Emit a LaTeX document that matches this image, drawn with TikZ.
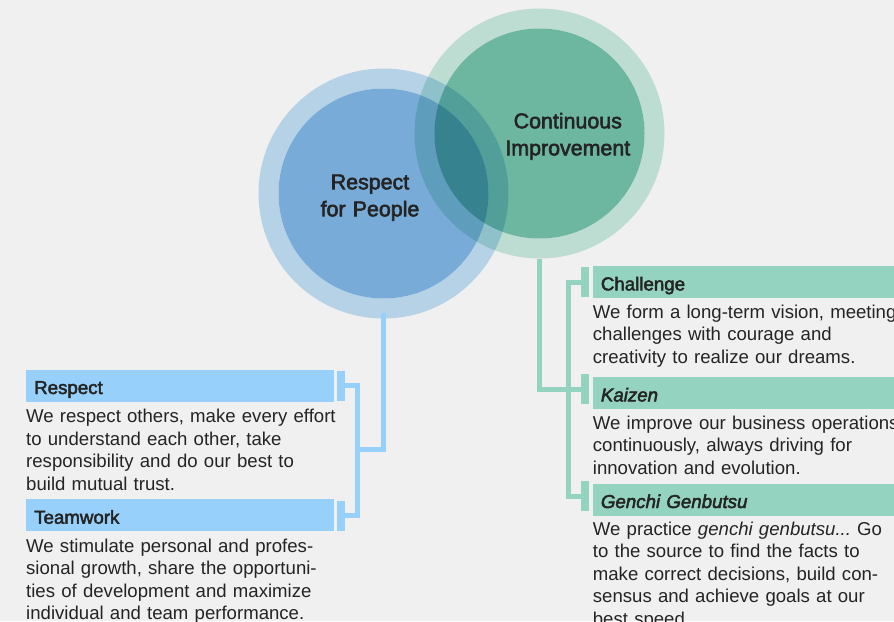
\documentclass[tikz,border=0pt]{standalone}
\usepackage{fontspec}
\setmainfont{Liberation Sans}
\newfontfamily\medfam{Liberation Sans}[FakeBold=2.5]
\usepackage{tikz}
\usetikzlibrary{
  	positioning,
  	calc
  }
\definecolor{paper}{HTML}{F0F0F0}
\definecolor{ink}{HTML}{242424}
\definecolor{bluering}{HTML}{B5D2E7}
\definecolor{bluecore}{HTML}{78ABD7}
\definecolor{greenring}{HTML}{CAEBE0}
\definecolor{greencore}{HTML}{74C2AA}
\definecolor{bluebar}{HTML}{97D1FB}
\definecolor{greenbar}{HTML}{94D3BF}
\newcommand\bdfont{\fontsize{18.6}{22.5}\selectfont\frenchspacing\color{ink}}
\newcommand\hdfont{\medfam\fontsize{18.7}{22}\selectfont\color{ink}}
\newcommand\crfont{\medfam\fontsize{21.4}{27}\selectfont\color{ink}}
\tikzstyle{ring}=[circle,inner sep=0pt,minimum size=230pt,line width=20pt]
\tikzstyle{core}=[circle,inner sep=0pt,minimum size=210pt]
\tikzstyle{bar}=[anchor=north west,inner xsep=8pt,inner ysep=0pt,minimum height=32pt,
  align=left,text height=19pt,text depth=2pt,font=\hdfont]
\tikzstyle{tick}=[inner sep=0pt,minimum width=8pt,minimum height=30pt]
\tikzstyle{body}=[anchor=base west,inner sep=0pt,text width=360pt,align=left,font=\bdfont]
\tikzstyle{blueline}=[draw=bluebar,line width=5pt]
\tikzstyle{greenline}=[draw=greenbar,line width=5pt]

\begin{document}
\begin{tikzpicture}[x=1pt,y=-1pt]
  \useasboundingbox (0,0) rectangle (894,621);
  \fill[paper] (0,0) rectangle (894,621);
  \clip (0,0) rectangle (894,621);
%
  \node[ring,draw=bluering] (rpring) at (383.5,193.5) {};
  \node[core,fill=bluecore] (rp) at (383.5,193.5) {};
  \begin{scope}[blend mode=multiply]
    \node[ring,draw=greenring] (ciring) at (539.5,133.5) {};
    \node[core,fill=greencore] (ci) at (539.5,133.5) {};
  \end{scope}
  \node[anchor=base,text width=160pt,align=center,font=\crfont] (rptxt) at (370,189.3)
    {Respect\\for People};
  \node[anchor=base,text width=160pt,align=center,font=\crfont] (citxt) at (567.8,128.3)
    {Continuous\\Improvement};
%
  \node[tick,fill=bluebar] (tr) at (340.8,385.7) {};
  \node[tick,fill=bluebar] (tt) at (340.8,515.8) {};
  \coordinate (bj) at (357,449);
  \draw[blueline] ($(rpring.south)+(0,-6)$) |- (bj);
  \draw[blueline] (tr.east) -| (bj) |- (tt.east);
%
  \node[tick,fill=greenbar] (tc) at (585,282) {};
  \node[tick,fill=greenbar] (tk) at (585,389) {};
  \node[tick,fill=greenbar] (tg) at (585,496) {};
  \coordinate (gj) at (568,389);
  \draw[greenline] (ciring.south) |- (tk.west);
  \draw[greenline] (tc.west) -| (gj) |- (tg.west);
%
  \node[bar,fill=bluebar,text width=291.3pt] (hr) at (26,369.3) {Respect};
  \node[body] (br) at (26,422.7)
    {We respect others, make every effort\\to understand each other, take\\responsibility and do our best to\\build mutual trust.};
  \node[bar,fill=bluebar,text width=291.3pt] (ht) at (26,499) {Teamwork};
  \node[body] (bt) at (26,552)
    {We stimulate personal and profes-\\sional growth, share the opportuni-\\ties of development and maximize\\individual and team performance.};
%
  \node[bar,fill=greenbar,text width=300pt] (hc) at (592.7,265.7) {Challenge};
  \node[body] (bc) at (592.7,318.3)
    {We form a long-term vision, meeting\\challenges with courage and\\creativity to realize our dreams.};
  \node[bar,fill=greenbar,text width=300pt] (hk) at (592.7,376.7) {\itshape Kaizen};
  \node[body] (bk) at (592.7,429)
    {We improve our business operations\\continuously, always driving for\\innovation and evolution.};
  \node[bar,fill=greenbar,text width=300pt] (hg) at (592.7,483.3) {\itshape Genchi Genbutsu};
  \node[body] (bg) at (592.7,535)
    {We practice \textit{genchi genbutsu...} Go\\to the source to find the facts to\\make correct decisions, build con-\\sensus and achieve goals at our\\best speed.};
\end{tikzpicture}
\end{document}
